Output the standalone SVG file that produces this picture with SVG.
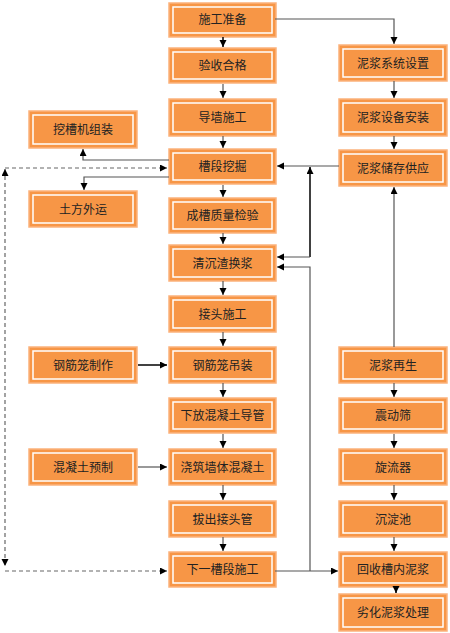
<svg xmlns="http://www.w3.org/2000/svg" width="450" height="633" viewBox="0 0 450 633">
<defs>
<marker id="ah" markerUnits="userSpaceOnUse" markerWidth="8" markerHeight="8" refX="7" refY="3.5" orient="auto-start-reverse">
<path d="M0,0 L7,3.5 L0,7 Z" fill="#000"/>
</marker>
<style>
.o{fill:#F79646;stroke:#FBB27C;stroke-width:1.5}
.i{fill:none;stroke:#fff;stroke-width:1.5}
.t{font-family:"Noto Sans CJK SC","Liberation Sans",sans-serif;font-size:12px;fill:#222;text-anchor:middle}
.ln{fill:none;stroke:#555;stroke-width:1.2}
.lb{fill:none;stroke:#111;stroke-width:1.6}
.ds{fill:none;stroke:#666;stroke-width:1.2;stroke-dasharray:4,3}
</style>
</defs>
<rect width="450" height="633" fill="#fff"/>

<g id="n1"><rect class="o" x="169" y="3" width="107" height="34"/><rect class="i" x="173" y="7" width="99" height="26"/><text class="t" x="222.5" y="24">施工准备</text></g>
<g id="n2"><rect class="o" x="169" y="48" width="107" height="35"/><rect class="i" x="173" y="52" width="99" height="27"/><text class="t" x="222.5" y="70">验收合格</text></g>
<g id="n3"><rect class="o" x="169" y="99" width="107" height="37"/><rect class="i" x="173" y="103" width="99" height="29"/><text class="t" x="222.5" y="122">导墙施工</text></g>
<g id="n4"><rect class="o" x="169" y="149" width="107" height="35"/><rect class="i" x="173" y="153" width="99" height="27"/><text class="t" x="222.5" y="171">槽段挖掘</text></g>
<g id="n5"><rect class="o" x="169" y="198" width="107" height="35"/><rect class="i" x="173" y="202" width="99" height="27"/><text class="t" x="222.5" y="220">成槽质量检验</text></g>
<g id="n6"><rect class="o" x="169" y="245" width="107" height="36"/><rect class="i" x="173" y="249" width="99" height="28"/><text class="t" x="222.5" y="268">清沉渣换浆</text></g>
<g id="n7"><rect class="o" x="169" y="296" width="107" height="36"/><rect class="i" x="173" y="300" width="99" height="28"/><text class="t" x="222.5" y="319">接头施工</text></g>
<g id="n8"><rect class="o" x="169" y="347" width="107" height="36"/><rect class="i" x="173" y="351" width="99" height="28"/><text class="t" x="222.5" y="370">钢筋笼吊装</text></g>
<g id="n9"><rect class="o" x="169" y="398" width="107" height="35"/><rect class="i" x="173" y="402" width="99" height="27"/><text class="t" x="222.5" y="420">下放混凝土导管</text></g>
<g id="n10"><rect class="o" x="169" y="449" width="107" height="36"/><rect class="i" x="173" y="453" width="99" height="28"/><text class="t" x="222.5" y="472">浇筑墙体混凝土</text></g>
<g id="n11"><rect class="o" x="169" y="501" width="107" height="36"/><rect class="i" x="173" y="505" width="99" height="28"/><text class="t" x="222.5" y="524">拔出接头管</text></g>
<g id="n12"><rect class="o" x="169" y="552" width="107" height="35"/><rect class="i" x="173" y="556" width="99" height="27"/><text class="t" x="222.5" y="574">下一槽段施工</text></g>

<g id="r1"><rect class="o" x="339" y="45" width="108" height="36"/><rect class="i" x="343" y="49" width="100" height="28"/><text class="t" x="393" y="68">泥浆系统设置</text></g>
<g id="r2"><rect class="o" x="339" y="99" width="108" height="37"/><rect class="i" x="343" y="103" width="100" height="29"/><text class="t" x="393" y="122">泥浆设备安装</text></g>
<g id="r3"><rect class="o" x="339" y="150" width="108" height="36"/><rect class="i" x="343" y="154" width="100" height="28"/><text class="t" x="393" y="173">泥浆储存供应</text></g>
<g id="r4"><rect class="o" x="339" y="347" width="108" height="36"/><rect class="i" x="343" y="351" width="100" height="28"/><text class="t" x="393" y="370">泥浆再生</text></g>
<g id="r5"><rect class="o" x="339" y="398" width="108" height="35"/><rect class="i" x="343" y="402" width="100" height="27"/><text class="t" x="393" y="420">震动筛</text></g>
<g id="r6"><rect class="o" x="339" y="449" width="108" height="36"/><rect class="i" x="343" y="453" width="100" height="28"/><text class="t" x="393" y="472">旋流器</text></g>
<g id="r7"><rect class="o" x="339" y="501" width="108" height="36"/><rect class="i" x="343" y="505" width="100" height="28"/><text class="t" x="393" y="524">沉淀池</text></g>
<g id="r8"><rect class="o" x="339" y="552" width="108" height="35"/><rect class="i" x="343" y="556" width="100" height="27"/><text class="t" x="393" y="574">回收槽内泥浆</text></g>
<g id="r9"><rect class="o" x="339" y="594" width="108" height="37"/><rect class="i" x="343" y="598" width="100" height="29"/><text class="t" x="393" y="617">劣化泥浆处理</text></g>

<g id="l1"><rect class="o" x="29" y="111" width="108" height="37"/><rect class="i" x="33" y="115" width="100" height="29"/><text class="t" x="83" y="134">挖槽机组装</text></g>
<g id="l2"><rect class="o" x="29" y="191" width="108" height="36"/><rect class="i" x="33" y="195" width="100" height="28"/><text class="t" x="83" y="214">土方外运</text></g>
<g id="l3"><rect class="o" x="29" y="347" width="108" height="36"/><rect class="i" x="33" y="351" width="100" height="28"/><text class="t" x="83" y="370">钢筋笼制作</text></g>
<g id="l4"><rect class="o" x="29" y="449" width="108" height="36"/><rect class="i" x="33" y="453" width="100" height="28"/><text class="t" x="83" y="472">混凝土预制</text></g>

<g id="connectors">
<path class="lb" d="M223,37 V47" marker-end="url(#ah)"/>
<path class="ln" d="M223,84 V98" marker-end="url(#ah)"/>
<path class="ln" d="M223,136 V148" marker-end="url(#ah)"/>
<path class="ln" d="M223,185 V197" marker-end="url(#ah)"/>
<path class="ln" d="M223,233 V244" marker-end="url(#ah)"/>
<path class="ln" d="M223,281 V295" marker-end="url(#ah)"/>
<path class="ln" d="M223,332 V346" marker-end="url(#ah)"/>
<path class="ln" d="M223,383 V397" marker-end="url(#ah)"/>
<path class="ln" d="M223,434 V448" marker-end="url(#ah)"/>
<path class="ln" d="M223,485 V500" marker-end="url(#ah)"/>
<path class="ln" d="M223,537 V551" marker-end="url(#ah)"/>

<path class="ln" d="M275,19 H394 V44" marker-end="url(#ah)"/>
<path class="ln" d="M394,81 V98" marker-end="url(#ah)"/>
<path class="ln" d="M394,136 V149" marker-end="url(#ah)"/>
<path class="ln" d="M394,347 V187" marker-end="url(#ah)"/>
<path class="ln" d="M394,383 V397" marker-end="url(#ah)"/>
<path class="ln" d="M394,434 V448" marker-end="url(#ah)"/>
<path class="ln" d="M394,485 V500" marker-end="url(#ah)"/>
<path class="ln" d="M394,537 V551" marker-end="url(#ah)"/>
<path class="lb" d="M396,587 V593" marker-end="url(#ah)"/>

<path class="ln" d="M169,160 H83 V149" marker-end="url(#ah)"/>
<path class="ln" d="M169,177 H84 V190" marker-end="url(#ah)"/>

<path class="ln" d="M339,166 H277" marker-end="url(#ah)"/>
<path class="lb" d="M310,257 V167" marker-end="url(#ah)"/>
<path class="ln" d="M310,257 H277" marker-end="url(#ah)"/>
<path class="ln" d="M310,571 V267 H277" marker-end="url(#ah)"/>
<path class="ln" d="M275,571 H338" marker-end="url(#ah)"/>

<path class="lb" d="M138,365 H167" marker-end="url(#ah)"/>
<path class="ln" d="M138,467 H167" marker-end="url(#ah)"/>

<path class="ds" d="M5,168 H167" marker-end="url(#ah)"/>
<path class="ds" d="M5,169 V566" marker-start="url(#ah)" marker-end="url(#ah)"/>
<path class="ds" d="M5,571 H167" marker-end="url(#ah)"/>
</g>
</svg>
